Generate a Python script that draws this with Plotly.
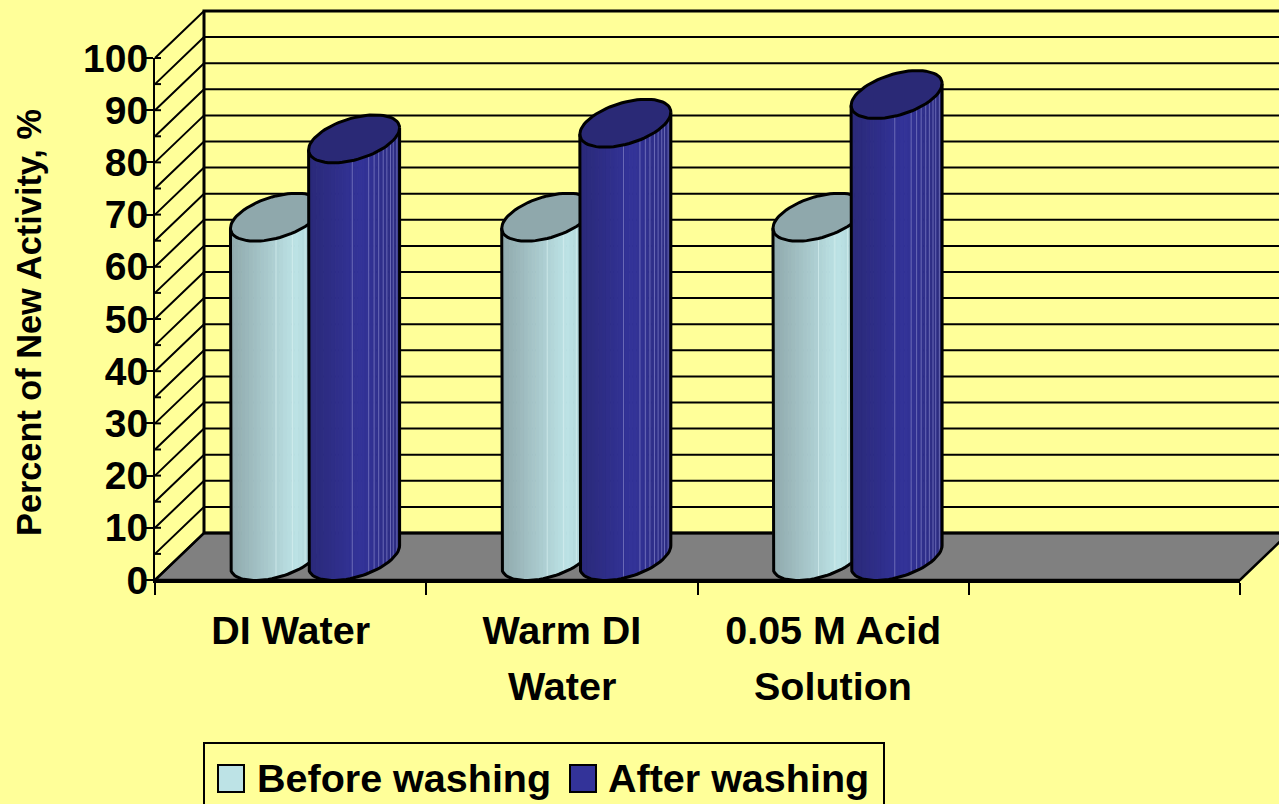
import math
import plotly.graph_objects as go

# ---- data ----
CATEGORIES = ["DI Water", "Warm DI", "0.05 M Acid"]
CATEGORY_LINE2 = ["", "Water", "Solution"]
BEFORE = [65, 65, 65]
AFTER = [80, 83, 88.5]
Y_TICKS = list(range(0, 101, 10))
GRID_VALUES = list(range(0, 101, 5))
X_TICKS = [0, 1, 2, 3, 4]
SERIES_NAMES = ["Before washing", "After washing"]
Y_TITLE = "Percent of New Activity, %"

# ---- styling / projection ----
W, H = 1279, 804
L, R, T, B = 155, 1240, 58, 580
N_CAT = 4
PX_X = (R - L) / N_CAT
PX_Y = (B - T) / 100
DEPTH_X = 49 / PX_X
DEPTH_Y = 47 / PX_Y
BG = "#FFFF99"
FONT = "Liberation Sans"
OFFSETS = [0.446, 0.734]
HALF_W = 45.5 / PX_X
SHEAR = 11 / PX_Y
MINOR = 21.3 / PX_Y
N_STRIP = 24
PALETTES = [
    {"dark": (143, 168, 172), "bright": (189, 227, 230), "peak": 0.72, "end": (168, 205, 210),
     "top": "#8FA8AC", "swatch": "#BDE3E6", "seam": "rgba(215,240,240,0.7)", "seams": [0.5, 0.68, 0.82]},
    {"dark": (42, 41, 120), "bright": (51, 51, 153), "peak": 0.58, "end": (44, 44, 128),
     "top": "#2A2976", "swatch": "#333399", "seam": "rgba(125,125,195,0.75)",
     "seams": [0.48, 0.66, 0.72, 0.77, 0.82, 0.86, 0.9, 0.93, 0.97]},
]

fig = go.Figure()


def poly(xs, ys, fill=None, line=None, width=0):
    fig.add_trace(go.Scatter(
        x=xs, y=ys, mode="lines", showlegend=False, hoverinfo="skip",
        fill="toself" if fill else "none", fillcolor=fill,
        line=dict(color=line or "rgba(0,0,0,0)", width=width),
    ))


# floor
poly([0, N_CAT, N_CAT + DEPTH_X, DEPTH_X, 0], [0, 0, DEPTH_Y, DEPTH_Y, 0], fill="#808080", line="black", width=2.5)

# walls: gridlines on the side wall and the back wall, ticks' inner stubs
gx, gy, sx, sy = [], [], [], []
for v in GRID_VALUES:
    gx += [0, DEPTH_X, N_CAT + DEPTH_X + 1, None]
    gy += [v, v + DEPTH_Y, v + DEPTH_Y, None]
    sx += [0, 6 / PX_X, None]
    sy += [v, v, None]
poly(gx, gy, line="black", width=2)
poly(sx, sy, line="black", width=2)
poly([DEPTH_X, DEPTH_X, N_CAT + DEPTH_X + 1], [DEPTH_Y, 100 + DEPTH_Y, 100 + DEPTH_Y], line="black", width=3)
poly([DEPTH_X, N_CAT + DEPTH_X + 1], [DEPTH_Y, DEPTH_Y], line="black", width=3)


def lerp(a, b, f):
    return tuple(round(a[i] + (b[i] - a[i]) * f) for i in range(3))


def strip_color(p, f):
    if f < p["peak"]:
        c = lerp(p["dark"], p["bright"], f / p["peak"])
    else:
        c = lerp(p["bright"], p["end"], (f - p["peak"]) / (1 - p["peak"]))
    return "rgb(%d,%d,%d)" % c


def edge(cx, vc, t):
    return cx + HALF_W * math.cos(t), vc + SHEAR * math.cos(t) - MINOR * math.sin(t)


def t_of(f):
    return math.acos(max(-1, min(1, 2 * f - 1)))


def cylinder(cx, value, pal):
    base = DEPTH_Y / 2
    top = base + value
    # side strips, left to right along the front half of the ellipse
    for i in range(N_STRIP):
        f0, f1 = i / N_STRIP, (i + 1) / N_STRIP
        sub = [t_of(f0 + (f1 - f0) * k / 3) for k in range(4)]
        low = [edge(cx, base, t) for t in sub]
        up = [edge(cx, top, t) for t in reversed(sub)]
        pts = low + up + [low[0]]
        col = strip_color(pal, (f0 + f1) / 2)
        poly([p[0] for p in pts], [p[1] for p in pts], fill=col, line=col, width=1)
    # faint seams between facets
    mx, my = [], []
    for f in pal["seams"]:
        a, b = edge(cx, base, t_of(f)), edge(cx, top, t_of(f))
        mx += [a[0], b[0], None]
        my += [a[1], b[1], None]
    poly(mx, my, line=pal["seam"], width=1)
    # top cap
    ts = [2 * math.pi * k / 72 for k in range(73)]
    cap = [edge(cx, top, t) for t in ts]
    poly([p[0] for p in cap], [p[1] for p in cap], fill=pal["top"], line="black", width=3)
    # silhouette
    front = [math.pi * (1 - k / 36) for k in range(37)]
    sil = [edge(cx, top, math.pi)] + [edge(cx, base, t) for t in front] + [edge(cx, top, 0)]
    poly([p[0] for p in sil], [p[1] for p in sil], line="black", width=3)


for i in range(len(CATEGORIES)):
    cylinder(i + OFFSETS[0], BEFORE[i], PALETTES[0])
    cylinder(i + OFFSETS[1], AFTER[i], PALETTES[1])

# an empty trace keeps the visible front axes on top of everything
fig.add_trace(go.Scatter(x=[None], y=[None], xaxis="x2", yaxis="y2", showlegend=False, hoverinfo="skip"))


def px(x):
    return x / W


def py(y):
    return 1 - y / H


BOLD = dict(family=FONT, color="black", weight=700)
shapes = [dict(type="rect", xref="paper", yref="paper", x0=px(204), x1=px(884), y0=py(815), y1=py(743),
               line=dict(color="black", width=2), fillcolor=BG, layer="below")]
annotations = [dict(xref="paper", yref="paper", x=px(29), y=py(323), text=Y_TITLE, textangle=-90, showarrow=False,
                    xanchor="center", yanchor="middle", font=dict(size=34.3, **BOLD))]
for name, x_sw, x_txt, pal in zip(SERIES_NAMES, [218, 570], [257, 608], PALETTES):
    shapes.append(dict(type="rect", xref="paper", yref="paper", x0=px(x_sw), x1=px(x_sw + 26), y0=py(792), y1=py(765),
                       line=dict(color="black", width=2), fillcolor=pal["swatch"]))
    annotations.append(dict(xref="paper", yref="paper", x=px(x_txt), y=py(778), xanchor="left", yanchor="middle",
                            xshift=-2, text=name, showarrow=False, font=dict(size=39.5, **BOLD)))
for i, line2 in enumerate(CATEGORY_LINE2):
    if line2:
        annotations.append(dict(xref="x2", yref="paper", x=i + 0.5, y=py(686), xanchor="center", yanchor="middle",
                                text=line2, showarrow=False, font=dict(size=39.5, **BOLD)))

fig.update_layout(
    width=W, height=H, autosize=False, paper_bgcolor=BG, plot_bgcolor="rgba(0,0,0,0)", showlegend=False,
    margin=dict(l=0, r=0, t=0, b=0, pad=0, autoexpand=False),
    font=dict(family=FONT, color="black"),
    shapes=shapes, annotations=annotations,
    xaxis=dict(domain=[0, 1], range=[-L / PX_X, (W - L) / PX_X], visible=False, fixedrange=True),
    yaxis=dict(domain=[0, 1], range=[-(H - B) / PX_Y, B / PX_Y], visible=False, fixedrange=True),
    xaxis2=dict(domain=[px(L), px(R)], range=[0, N_CAT], anchor="y2", showgrid=False, zeroline=False, showline=True,
                linecolor="black", linewidth=2.5, tickmode="array", tickvals=[i + 0.5 for i in range(len(CATEGORIES))],
                ticktext=CATEGORIES, ticks="", tickangle=0, tickfont=dict(size=39.5, **BOLD), ticklabelstandoff=14,
                fixedrange=True,
                minor=dict(tickmode="array", tickvals=X_TICKS, ticks="outside", ticklen=12, tickwidth=2,
                           tickcolor="black", showgrid=False)),
    yaxis2=dict(domain=[py(B), py(T)], range=[0, 100], anchor="x2", showgrid=False, zeroline=False, showline=True,
                linecolor="black", linewidth=2, tickmode="array", tickvals=Y_TICKS, ticks="outside", ticklen=8,
                tickwidth=2, tickcolor="black", tickfont=dict(size=39, **BOLD), ticklabelstandoff=-11, fixedrange=True),
)

fig.write_html("out.html", config=dict(displayModeBar=False),
               post_script="document.body.style.margin='0';document.body.style.overflow='hidden';")
